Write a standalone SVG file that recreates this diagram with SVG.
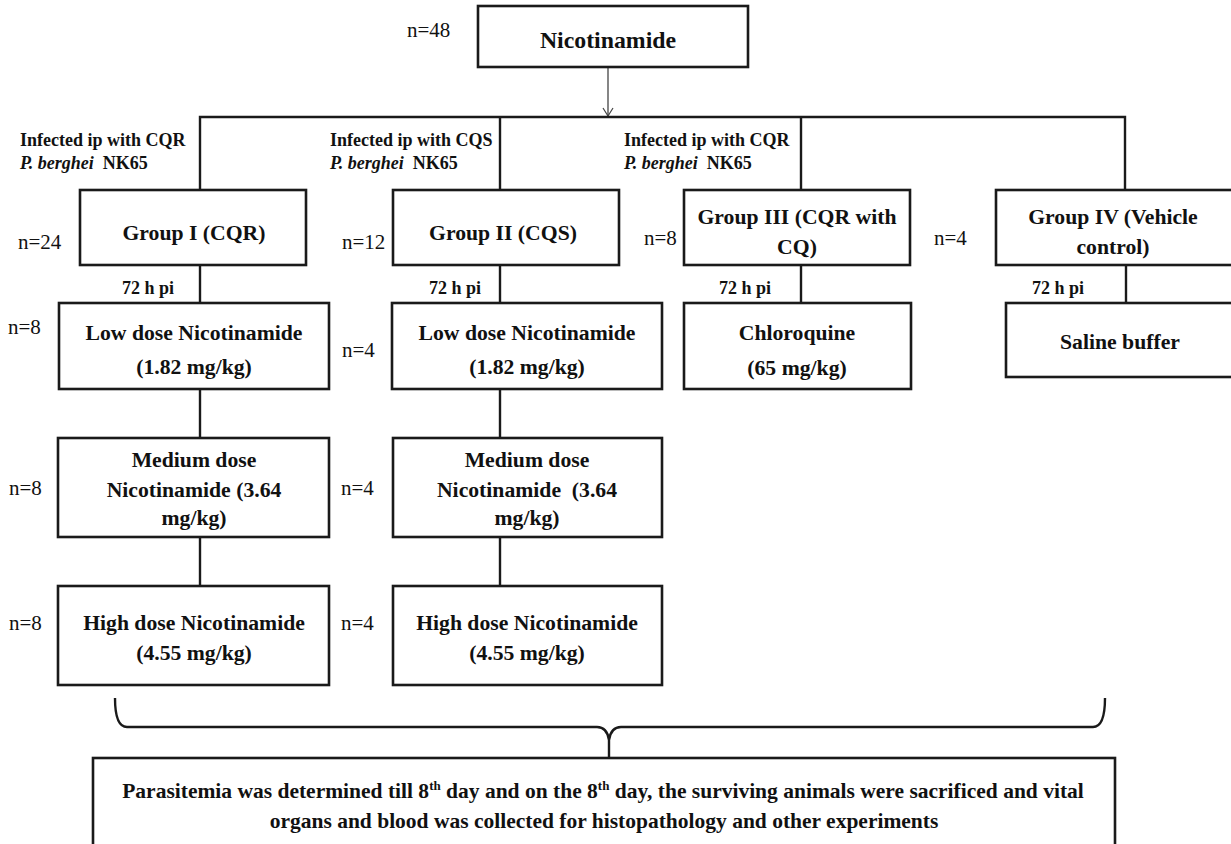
<svg xmlns="http://www.w3.org/2000/svg" width="1231" height="844" viewBox="0 0 1231 844">
<defs>
<style>
.box{fill:#fff;stroke:#1a1a1a;stroke-width:2.6}
.ln{fill:none;stroke:#1a1a1a;stroke-width:2.4}
.t{font-family:"Liberation Serif","Times New Roman",serif;font-weight:bold;font-size:21.7px;fill:#111;text-anchor:middle}
.n{font-family:"Liberation Serif","Times New Roman",serif;font-size:21px;fill:#111}
.s{font-family:"Liberation Serif","Times New Roman",serif;font-weight:bold;font-size:18px;fill:#111}
.b{font-family:"Liberation Serif","Times New Roman",serif;font-weight:bold;font-size:21.5px;fill:#111;text-anchor:middle}
</style>
<marker id="arr" viewBox="0 0 12 12" refX="11" refY="6" markerWidth="12" markerHeight="12" markerUnits="userSpaceOnUse" orient="auto">
<path d="M3,1 L11,6 L3,11" fill="none" stroke="#444" stroke-width="1.2"/>
</marker>
</defs>
<rect width="1231" height="844" fill="#fff"/>

<g id="connectors">
<line x1="608" y1="67" x2="608" y2="116" stroke="#444" stroke-width="1.3" marker-end="url(#arr)"/>
<path class="ln" d="M200,190 V117 H1125 V190" stroke-width="3"/>
<line class="ln" x1="500" y1="117" x2="500" y2="190"/>
<line class="ln" x1="801" y1="117" x2="801" y2="190"/>
<line class="ln" x1="200" y1="265" x2="200" y2="303"/>
<line class="ln" x1="500" y1="265" x2="500" y2="303"/>
<line class="ln" x1="801" y1="265" x2="801" y2="303"/>
<line class="ln" x1="1126" y1="265" x2="1126" y2="303"/>
<line class="ln" x1="200" y1="389" x2="200" y2="438"/>
<line class="ln" x1="500" y1="389" x2="500" y2="438"/>
<line class="ln" x1="200" y1="537" x2="200" y2="586"/>
<line class="ln" x1="500" y1="537" x2="500" y2="586"/>
<path class="ln" stroke-width="2" d="M115,698 Q115,727 127,727 L597,727 Q607,727 609,740 L609,757 M609,740 Q611,727 621,727 L1093,727 Q1105,727 1105,698"/>
</g>

<g id="n48"><text class="n" x="407" y="37">n=48</text></g>
<g id="nicotinamide">
<rect class="box" x="478" y="6" width="270" height="61"/>
<text class="t" x="608" y="48" style="font-size:23.8px">Nicotinamide</text>
</g>

<g id="labels">
<text class="s" x="20" y="146">Infected ip with CQR</text>
<text class="s" x="20" y="169" xml:space="preserve"><tspan font-style="italic">P. berghei</tspan>  NK65</text>
<text class="s" x="330" y="146">Infected ip with CQS</text>
<text class="s" x="330" y="169" xml:space="preserve"><tspan font-style="italic">P. berghei</tspan>  NK65</text>
<text class="s" x="624" y="146">Infected ip with CQR</text>
<text class="s" x="624" y="169" xml:space="preserve"><tspan font-style="italic">P. berghei</tspan>  NK65</text>
<text class="s" x="122" y="294">72 h pi</text>
<text class="s" x="429" y="294">72 h pi</text>
<text class="s" x="719" y="294">72 h pi</text>
<text class="s" x="1032" y="294">72 h pi</text>
</g>

<g id="group1">
<rect class="box" x="80" y="190" width="226" height="75"/>
<text class="t" x="194" y="240">Group I (CQR)</text>
<text class="n" x="18" y="249">n=24</text>
</g>
<g id="group2">
<rect class="box" x="393" y="190" width="226" height="75"/>
<text class="t" x="503" y="240">Group II (CQS)</text>
<text class="n" x="342" y="249">n=12</text>
</g>
<g id="group3">
<rect class="box" x="684" y="190" width="226" height="75"/>
<text class="t" x="797" y="224">Group III (CQR with</text>
<text class="t" x="797" y="254">CQ)</text>
<text class="n" x="644" y="245">n=8</text>
</g>
<g id="group4">
<rect class="box" x="996" y="190" width="260" height="75"/>
<text class="t" x="1113" y="224">Group IV (Vehicle</text>
<text class="t" x="1113" y="254">control)</text>
<text class="n" x="934" y="245">n=4</text>
</g>

<g id="low1">
<rect class="box" x="59" y="303" width="270" height="86"/>
<text class="t" x="194" y="340">Low dose Nicotinamide</text>
<text class="t" x="194" y="374">(1.82 mg/kg)</text>
<text class="n" x="8" y="334">n=8</text>
</g>
<g id="low2">
<rect class="box" x="392" y="303" width="270" height="86"/>
<text class="t" x="527" y="340">Low dose Nicotinamide</text>
<text class="t" x="527" y="374">(1.82 mg/kg)</text>
<text class="n" x="342" y="357">n=4</text>
</g>
<g id="chloroquine">
<rect class="box" x="684" y="303" width="227" height="86"/>
<text class="t" x="797" y="340">Chloroquine</text>
<text class="t" x="797" y="375">(65 mg/kg)</text>
</g>
<g id="saline">
<rect class="box" x="1006" y="303" width="250" height="74"/>
<text class="t" x="1120" y="349">Saline buffer</text>
</g>

<g id="medium1">
<rect class="box" x="58" y="438" width="271" height="99"/>
<text class="t" x="194" y="467">Medium dose</text>
<text class="t" x="194" y="497">Nicotinamide (3.64</text>
<text class="t" x="194" y="525">mg/kg)</text>
<text class="n" x="9" y="495">n=8</text>
</g>
<g id="medium2">
<rect class="box" x="393" y="438" width="269" height="99"/>
<text class="t" x="527" y="467">Medium dose</text>
<text class="t" x="527" y="497" xml:space="preserve">Nicotinamide  (3.64</text>
<text class="t" x="527" y="525">mg/kg)</text>
<text class="n" x="341" y="495">n=4</text>
</g>

<g id="high1">
<rect class="box" x="58" y="586" width="271" height="99"/>
<text class="t" x="194" y="630">High dose Nicotinamide</text>
<text class="t" x="194" y="660">(4.55 mg/kg)</text>
<text class="n" x="9" y="630">n=8</text>
</g>
<g id="high2">
<rect class="box" x="393" y="586" width="269" height="99"/>
<text class="t" x="527" y="630">High dose Nicotinamide</text>
<text class="t" x="527" y="660">(4.55 mg/kg)</text>
<text class="n" x="341" y="630">n=4</text>
</g>

<g id="outcome">
<rect class="box" x="93" y="758" width="1022" height="100"/>
<text class="b" x="603" y="798">Parasitemia was determined till 8<tspan dy="-8" font-size="13">th</tspan><tspan dy="8"> day and on the 8</tspan><tspan dy="-8" font-size="13">th</tspan><tspan dy="8"> day, the surviving animals were sacrificed and vital</tspan></text>
<text class="b" x="604" y="828">organs and blood was collected for histopathology and other experiments</text>
</g>
</svg>
